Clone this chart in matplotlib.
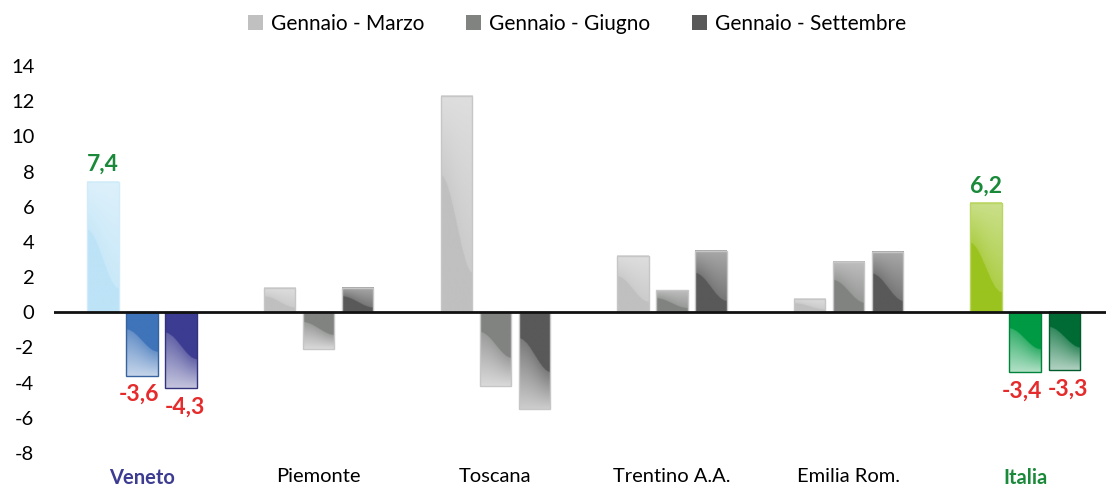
import numpy as np
import matplotlib
matplotlib.use("Agg")
import matplotlib.pyplot as plt
from matplotlib.colors import to_rgb
from matplotlib.patches import Patch

plt.rcParams["font.family"] = ["Lato", "DejaVu Sans"]

# data
regions = ["Veneto", "Piemonte", "Toscana", "Trentino A.A.", "Emilia Rom.", "Italia"]
series = ["Gennaio - Marzo", "Gennaio - Giugno", "Gennaio - Settembre"]
marzo = [7.4, 1.4, 12.3, 3.2, 0.75, 6.2]
giugno = [-3.6, -2.1, -4.2, 1.25, 2.85, -3.4]
settembre = [-4.3, 1.4, -5.5, 3.5, 3.45, -3.3]
yticks = list(range(-8, 15, 2))
labelled = ["Veneto", "Italia"]

# styles
grey = ["#c0c0c0", "#818381", "#595959"]
veneto_col = ["#bde3f7", "#3f74ba", "#3c3c92"]
italia_col = ["#9bc31f", "#009a44", "#006b35"]
label_green = "#1a8a3a"
label_red = "#e52b2b"
veneto_tick = "#3c3c92"
label_shift = [0, -3, 4]  # small sideways nudge of the value labels, px


def smooth(u):
    return u * u * (3 - 2 * u)


def gloss(color, positive, n=200, m=60):
    # v = 0 at the zero line, 1 at the end of the bar
    v = np.linspace(0, 1, n)[:, None]
    u = np.linspace(0, 1, m)[None, :]
    base = np.array(to_rgb(color))
    if positive:
        b = 0.63 - 0.45 * smooth(u)
        t = np.where(v > b, 0.18 + 0.3 * (v - b) / np.maximum(1 - b, 1e-3), 0.0)
    else:
        b = 0.27 + 0.35 * smooth(u)
        t = np.where(v > b, 0.2 + 0.5 * (v - b) / np.maximum(1 - b, 1e-3), 0.0)
    return base + (1 - base) * t[..., None]


fig = plt.figure(figsize=(11.06, 4.87), dpi=100)
ax = fig.add_axes([0.0486, 0.0698, 0.9515, 0.7947])

x = np.arange(len(regions))
step = 0.221
width = 0.178

for i, vals in enumerate([marzo, giugno, settembre]):
    cols = []
    for r in regions:
        if r == "Veneto":
            cols.append(veneto_col[i])
        elif r == "Italia":
            cols.append(italia_col[i])
        else:
            cols.append(grey[i])
    bars = ax.bar(x + (i - 1) * step, vals, width, color=cols, zorder=2)
    for p, c, v, r in zip(bars.patches, cols, vals, regions):
        x0 = p.get_x()
        x1 = x0 + p.get_width()
        img = gloss(c, v > 0)
        if v > 0:
            ax.imshow(img, extent=(x0, x1, 0, v), origin="lower",
                      aspect="auto", interpolation="bilinear", zorder=2.5)
        else:
            ax.imshow(img[::-1], extent=(x0, x1, v, 0), origin="lower",
                      aspect="auto", interpolation="bilinear", zorder=2.5)
        p.set_facecolor("none")
        base = np.array(to_rgb(c))
        if r not in labelled:
            p.set_edgecolor("#c6c6c6")
        elif v > 0:
            p.set_edgecolor(base + (1 - base) * 0.3)
        else:
            p.set_edgecolor(base * 0.85)
        p.set_linewidth(1)
        p.set_zorder(3)
        if r in labelled:
            txt = f"{v:.1f}".replace(".", ",")
            if v > 0:
                ax.annotate(txt, (p.get_x() + p.get_width() / 2, v),
                            xytext=(0, 5), textcoords="offset points",
                            ha="center", va="bottom", fontsize=16.5,
                            fontweight="bold", color=label_green)
            else:
                ax.annotate(txt, (p.get_x() + p.get_width() / 2, v),
                            xytext=(label_shift[i] * 0.72, -6),
                            textcoords="offset points",
                            ha="center", va="top", fontsize=16.5,
                            fontweight="bold", color=label_red)

ax.axhline(0, color="#111111", lw=2, zorder=4)

ax.set_xlim(-0.5, 5.458)
ax.set_ylim(-8, 14)
ax.set_yticks(yticks)
ax.set_yticklabels([str(t) for t in yticks], fontsize=14.5)
ax.set_xticks(x)
ax.set_xticklabels(regions, fontsize=14.5)
ax.tick_params(axis="both", length=0)
ax.tick_params(axis="y", pad=14)
ax.tick_params(axis="x", pad=11)
for s in ax.spines.values():
    s.set_visible(False)

for lab in ax.get_xticklabels():
    if lab.get_text() == "Veneto":
        lab.set_color(veneto_tick)
        lab.set_fontweight("bold")
    elif lab.get_text() == "Italia":
        lab.set_color(label_green)
        lab.set_fontweight("bold")

handles = [Patch(facecolor=g, edgecolor="none") for g in grey]
fig.legend(handles, series, ncol=3, loc="upper center",
           bbox_to_anchor=(0.522, 1.01), frameon=False, fontsize=15,
           handlelength=0.7, handleheight=0.7, handletextpad=0.4,
           columnspacing=2.0)

fig.savefig("out.png", dpi=100)
